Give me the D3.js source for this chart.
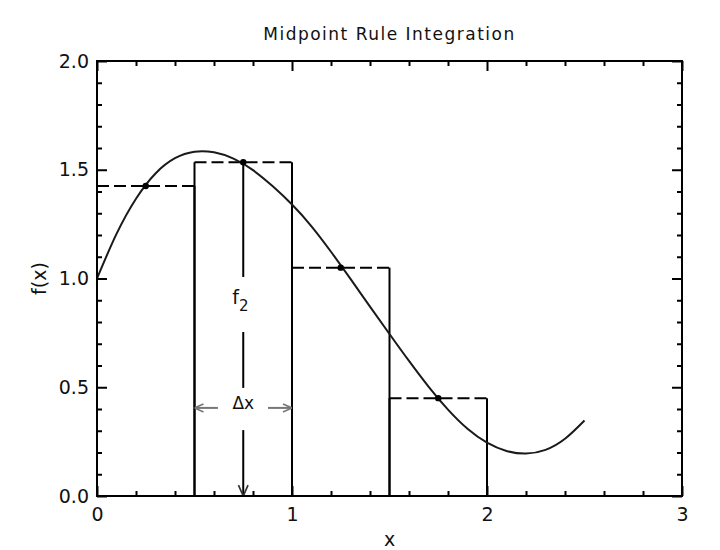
<!DOCTYPE html>
<html><head><meta charset="utf-8">
<script src="https://cdn.jsdelivr.net/npm/d3@7"></script>
<style>
html,body{margin:0;padding:0;background:#fff;}
svg{display:block;}
text{font-family:"DejaVu Sans",sans-serif;fill:#111;}
</style></head>
<body>
<svg id="chart" width="720" height="550"></svg>
<script>
// ---- data ----
const curveX = [0,0.1,0.2,0.3,0.4,0.5,0.6,0.7,0.8,0.9,1.0,1.1,1.2,1.3,1.4,1.5,1.6,1.7,1.8,1.9,2.0,2.1,2.2,2.3,2.4,2.5];
const curveY = [1.000,1.205,1.367,1.483,1.553,1.583,1.580,1.551,1.498,1.425,1.340,1.240,1.123,0.998,0.871,0.745,0.621,0.503,0.397,0.309,0.245,0.207,0.195,0.212,0.263,0.347];
const binLeft = [0,0.5,1.0,1.5];
const binRight = [0.5,1.0,1.5,2.0];
const midX = [0.25,0.75,1.25,1.75];
const midF = [1.425,1.535,1.05,0.45];
const xTicks = [0,1,2,3];
const yTicks = [0,0.5,1.0,1.5,2.0];
const xMinor = [0.2,0.4,0.6,0.8,1.2,1.4,1.6,1.8,2.2,2.4,2.6,2.8];
const yMinor = [0.1,0.2,0.3,0.4,0.6,0.7,0.8,0.9,1.1,1.2,1.3,1.4,1.6,1.7,1.8,1.9];
const titleText = "Midpoint Rule Integration";
const xLabel = "x", yLabel = "f(x)";
// annotation (vertical f2 arrow at x = 0.75, Δx arrow spanning [0.5,1.0])
const f2Segments = [[1.535,1.007],[0.754,0.497],[0.303,0]];
const f2LabelY = 0.885;
const dxY = 0.405;
const dxSegments = [[0.5,0.62],[0.877,1.0]];

// ---- drawing ----
const svg = d3.select("#chart");
const L=97,R=682,T=61,B=496;
const x = d3.scaleLinear().domain([0,3]).range([L,R]);
const y = d3.scaleLinear().domain([0,2]).range([B,T]);

svg.append("defs").html(`
<marker id="open" viewBox="0 0 10 10" refX="10" refY="5" markerWidth="10" markerHeight="10" markerUnits="userSpaceOnUse" orient="auto">
<path d="M1,1 L10,5 L1,9" fill="none" stroke="#777" stroke-width="1.6"/></marker>
<marker id="openB" viewBox="0 0 10 10" refX="10" refY="5" markerWidth="12" markerHeight="12" markerUnits="userSpaceOnUse" orient="auto">
<path d="M1,1 L10,5 L1,9" fill="none" stroke="#333" stroke-width="1.4"/></marker>`);

// rectangles: solid sides, dashed tops
const g = svg.append("g");
binLeft.forEach((l,i)=>{
  const r = binRight[i], h = midF[i];
  g.append("line").attr("x1",x(l)).attr("x2",x(l)).attr("y1",y(0)).attr("y2",y(h))
    .attr("stroke","#000").attr("stroke-width",2);
  g.append("line").attr("x1",x(r)).attr("x2",x(r)).attr("y1",y(0)).attr("y2",y(h))
    .attr("stroke","#000").attr("stroke-width",2);
  g.append("line").attr("x1",x(l)).attr("x2",x(r)).attr("y1",y(h)).attr("y2",y(h))
    .attr("stroke","#000").attr("stroke-width",2).attr("stroke-dasharray","12,5");
});

// curve
const pts = curveX.map((v,i)=>[v,curveY[i]]);
svg.append("path").datum(pts)
  .attr("d", d3.line().x(d=>x(d[0])).y(d=>y(d[1])).curve(d3.curveNatural))
  .attr("fill","none").attr("stroke","#1a1a1a").attr("stroke-width",2);

// midpoint dots
svg.selectAll("circle.mid").data(midX).join("circle")
  .attr("cx",d=>x(d)).attr("cy",(d,i)=>y(midF[i])).attr("r",3.2).attr("fill","#000");

// f2 vertical arrow
f2Segments.forEach((s,i)=>{
  const ln = svg.append("line").attr("x1",x(0.75)).attr("x2",x(0.75))
    .attr("y1",y(s[0])).attr("y2",y(s[1])).attr("stroke","#000").attr("stroke-width",2);
  if(i===f2Segments.length-1) ln.attr("marker-end","url(#openB)");
});
const f2 = svg.append("text").attr("x",x(0.75)-11).attr("y",y(f2LabelY)).attr("font-size",19);
f2.append("tspan").text("f");
f2.append("tspan").attr("font-size",15).attr("dy",7).text("2");

// Δx arrows
dxSegments.forEach((s,i)=>{
  svg.append("line")
    .attr("x1", i===0 ? x(s[1]) : x(s[0])).attr("x2", i===0 ? x(s[0]) : x(s[1]))
    .attr("y1",y(dxY)).attr("y2",y(dxY))
    .attr("stroke","#777").attr("stroke-width",2).attr("marker-end","url(#open)");
});
svg.append("text").attr("x",x(0.75)).attr("y",y(dxY)+1).attr("text-anchor","middle")
  .attr("font-size",17).attr("fill","#222").text("Δx");

// axes (ticks inward on all four sides)
function styleAx(sel){
  sel.select(".domain").remove();
  sel.selectAll("line").attr("stroke","#000").attr("stroke-width",2);
  sel.selectAll("text").attr("font-size",19).attr("fill","#222").attr("font-family","DejaVu Sans");
}
svg.append("g").attr("transform",`translate(0,${B})`)
  .call(d3.axisBottom(x).tickValues(xTicks).tickFormat(d3.format("d")).tickSizeInner(-10).tickSizeOuter(0).tickPadding(12)).call(styleAx);
svg.append("g").attr("transform",`translate(0,${B})`)
  .call(d3.axisBottom(x).tickValues(xMinor).tickFormat("").tickSizeInner(-5).tickSizeOuter(0)).call(styleAx);
svg.append("g").attr("transform",`translate(0,${T})`)
  .call(d3.axisTop(x).tickValues(xTicks).tickFormat("").tickSizeInner(-10).tickSizeOuter(0)).call(styleAx);
svg.append("g").attr("transform",`translate(0,${T})`)
  .call(d3.axisTop(x).tickValues(xMinor).tickFormat("").tickSizeInner(-5).tickSizeOuter(0)).call(styleAx);
svg.append("g").attr("transform",`translate(${L},0)`)
  .call(d3.axisLeft(y).tickValues(yTicks).tickFormat(d3.format(".1f")).tickSizeInner(-10).tickSizeOuter(0).tickPadding(8)).call(styleAx);
svg.append("g").attr("transform",`translate(${L},0)`)
  .call(d3.axisLeft(y).tickValues(yMinor).tickFormat("").tickSizeInner(-5).tickSizeOuter(0)).call(styleAx);
svg.append("g").attr("transform",`translate(${R},0)`)
  .call(d3.axisRight(y).tickValues(yTicks).tickFormat("").tickSizeInner(-10).tickSizeOuter(0)).call(styleAx);
svg.append("g").attr("transform",`translate(${R},0)`)
  .call(d3.axisRight(y).tickValues(yMinor).tickFormat("").tickSizeInner(-5).tickSizeOuter(0)).call(styleAx);

// frame
svg.append("rect").attr("x",L).attr("y",T).attr("width",R-L).attr("height",B-T)
  .attr("fill","none").attr("stroke","#000").attr("stroke-width",2);

// titles
svg.append("text").attr("x",(L+R)/2).attr("y",40).attr("text-anchor","middle")
  .attr("font-size",17).attr("letter-spacing",1.5).attr("fill","#222").text(titleText);
svg.append("text").attr("x",(L+R)/2).attr("y",546).attr("text-anchor","middle")
  .attr("font-size",19).attr("fill","#222").text(xLabel);
svg.append("text").attr("transform",`translate(46,${(T+B)/2}) rotate(-90)`).attr("text-anchor","middle")
  .attr("font-size",19).attr("fill","#222").text(yLabel);
</script>
</body></html>
